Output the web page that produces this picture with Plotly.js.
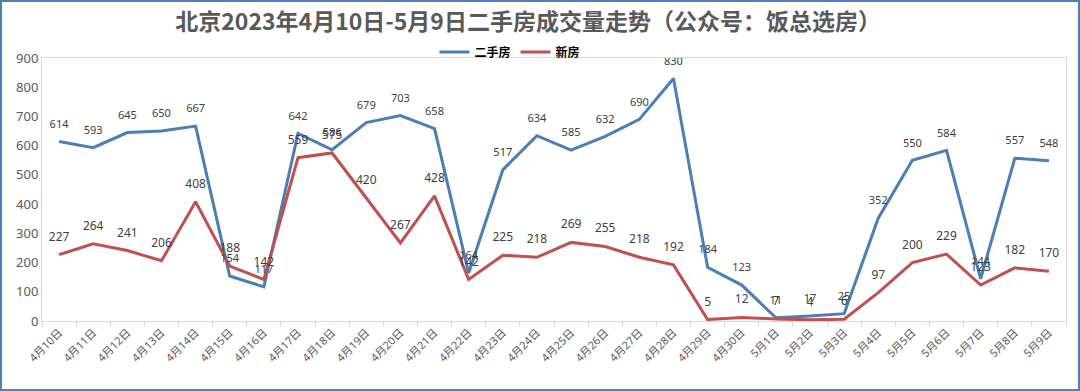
<!DOCTYPE html>
<html><head><meta charset="utf-8">
<script src="https://cdn.plot.ly/plotly-3.0.1.min.js"></script>
<style>
html,body{margin:0;padding:0;background:#fff;}
#wrap{position:relative;width:1080px;height:391px;}
#chart{width:1080px;height:391px;}
#frame{position:absolute;left:0;top:0;width:1080px;height:391px;box-sizing:border-box;border:2px solid #4f7fc0;pointer-events:none;}
</style></head>
<body>
<div id="wrap"><div id="chart"></div><div id="frame"></div></div>
<script>
const dates = ["4月10日","4月11日","4月12日","4月13日","4月14日","4月15日","4月16日","4月17日","4月18日","4月19日","4月20日","4月21日","4月22日","4月23日","4月24日","4月25日","4月26日","4月27日","4月28日","4月29日","4月30日","5月1日","5月2日","5月3日","5月4日","5月5日","5月6日","5月7日","5月8日","5月9日"];
const secondHand = [614,593,645,650,667,154,117,642,586,679,703,658,164,517,634,585,632,690,830,184,123,11,17,25,352,550,584,144,557,548];
const newHouse = [227,264,241,206,408,188,142,559,575,420,267,428,142,225,218,269,255,218,192,5,12,7,4,6,97,200,229,123,182,170];
const yTicks = [0,100,200,300,400,500,600,700,800,900];
const seriesNames = ["二手房", "新房"];
const seriesColors = ["#4a7ebb", "#c0504d"];

const font = "'Noto Sans', 'Noto Sans CJK SC', sans-serif";
const seriesData = [secondHand, newHouse];
const traces = [];
seriesData.forEach((vals, i) => {
  traces.push({x: dates, y: vals, name: seriesNames[i], type: "scatter", mode: "lines",
    line: {color: seriesColors[i], width: 3}});
});
seriesData.forEach((vals, i) => {
  traces.push({x: dates, y: vals, name: seriesNames[i] + "标签", type: "scatter", mode: "markers+text",
    showlegend: false, marker: {size: 16, opacity: 0},
    text: vals.map(String), textposition: "top center",
    textfont: {size: i === 0 ? 11 : 12, color: "#404040", family: font}, cliponaxis: false});
});
const layout = {
  width: 1080, height: 391,
  margin: {l: 42, r: 14, t: 58, b: 70},
  paper_bgcolor: "#fff", plot_bgcolor: "#fff",
  font: {family: font, color: "#595959"},
  title: {text: "<b>北京2023年4月10日-5月9日二手房成交量走势（公众号：饭总选房）</b>",
    font: {size: 23, color: "#595959", family: "'Noto Sans CJK SC', sans-serif"},
    x: 0.489, xref: "container", xanchor: "center", y: 0.944, yref: "container", yanchor: "middle"},
  showlegend: true,
  legend: {orientation: "h", x: 0.457, xanchor: "center", y: 1.023, yanchor: "middle",
    itemwidth: 30, tracegroupgap: 0,
    font: {size: 12, color: "#000", family: "'Noto Sans CJK SC', sans-serif", weight: "bold"}, bgcolor: "rgba(0,0,0,0)"},
  xaxis: {type: "category", range: [-0.5, 29.5], tickangle: -45, tickson: "boundaries",
    ticks: "outside", ticklen: 5, tickcolor: "#d9d9d9", showline: true, linecolor: "#d9d9d9",
    showgrid: false, tickfont: {size: 11, color: "#595959"}, mirror: true, fixedrange: true},
  yaxis: {range: [0, 900], tickvals: yTicks, showgrid: false, showline: true, linecolor: "#d9d9d9",
    mirror: true, ticks: "", tickfont: {size: 13, color: "#595959"}, zeroline: false, fixedrange: true}
};
Plotly.newPlot("chart", traces, layout, {displayModeBar: false, staticPlot: true});
</script>
</body></html>
